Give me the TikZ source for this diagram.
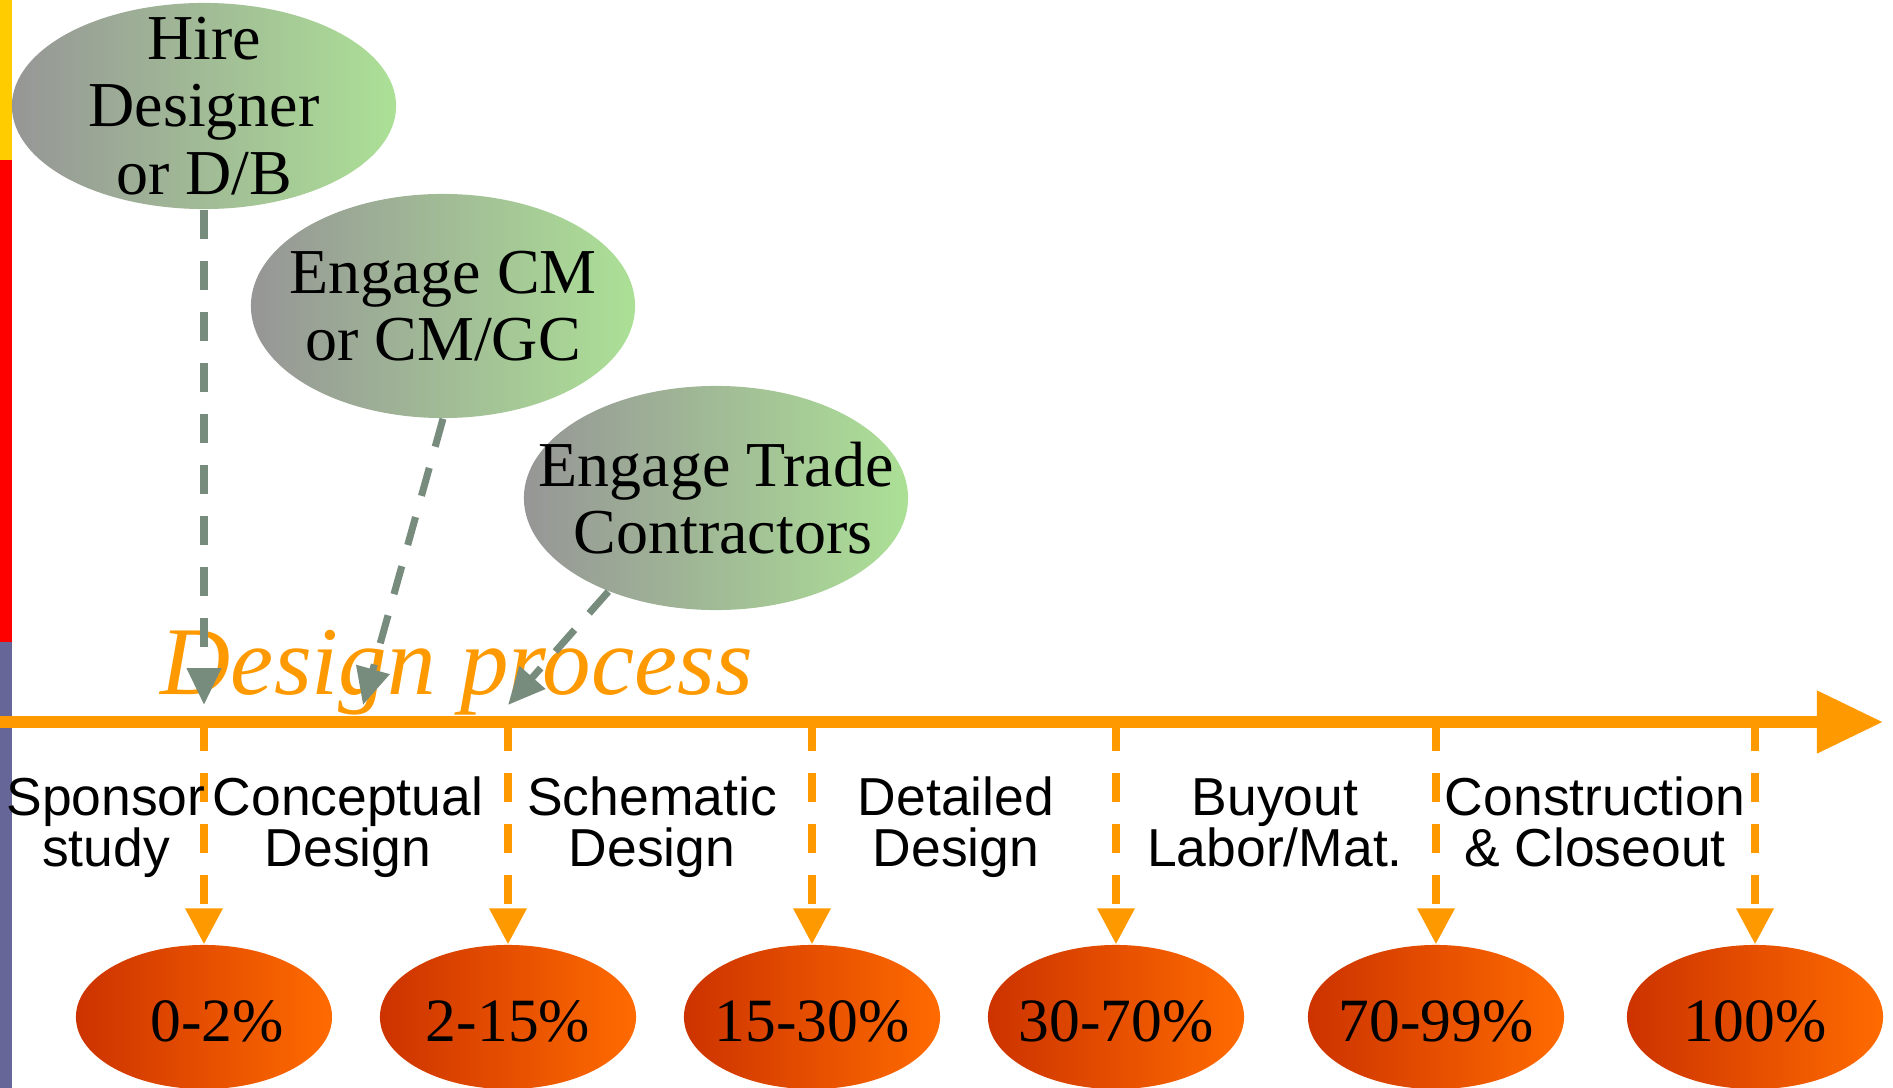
\documentclass[tikz,border=0pt]{standalone}
\usepackage{fontspec}
\setmainfont{Liberation Serif}
\setsansfont{Liberation Sans}
\usetikzlibrary{arrows.meta,shapes.geometric}
\setlength{\lineskiplimit}{-10pt}

\definecolor{barYellow}{HTML}{FFCC00}
\definecolor{barRed}{HTML}{FF0000}
\definecolor{barPurple}{HTML}{666699}
\definecolor{lineOrange}{HTML}{FF9900}
\definecolor{linkGrey}{RGB}{119,140,125}
\definecolor{blobGrey}{RGB}{150,150,150}
\definecolor{blobGreen}{RGB}{172,224,150}
\definecolor{pctDark}{RGB}{204,51,0}
\definecolor{pctLight}{RGB}{255,107,0}

\tikzset{
  task/.style={ellipse, minimum width=3.84cm, minimum height=2.24cm, inner sep=0pt,
    left color=blobGrey, right color=blobGreen},
  tasktext/.style={align=center, font=\fontsize{18.2}{19.1}\selectfont},
  pct/.style={ellipse, minimum width=2.56cm, minimum height=1.44cm, inner sep=0pt,
    left color=pctDark, right color=pctLight},
  pcttext/.style={font=\fontsize{17.5}{20}\selectfont},
  phase/.style={align=center, anchor=base, font=\sffamily\fontsize{15.2}{14.3}\selectfont},
  link/.style={linkGrey, line width=2pt, dash pattern=on 8.25pt off 6.26pt,
    -{Triangle[length=10.5pt,width=9.4pt]}},
  tick/.style={lineOrange, line width=2pt, dash pattern=on 8.25pt off 6.26pt,
    -{Triangle[length=10.2pt,width=10.2pt]}}
}

\begin{document}
\begin{tikzpicture}[x=0.01cm, y=-0.01cm]
    \useasboundingbox (0,0) rectangle (1893,1088);
    \fill[barYellow] (0,0) rectangle (12,160);
    \fill[barRed] (0,160) rectangle (12,642);
    \fill[barPurple] (0,642) rectangle (12,1088);

    \node[task, minimum height=2.06cm] (hire) at (204,106) {};
    \node[tasktext] (hiretext) at (hire) {Hire\\Designer\\or D/B};
    \node[task] (cm) at (443,306) {};
    \node[tasktext] (cmtext) at (cm) {Engage CM\\or CM/GC};
    \node[task] (trade) at (716,498) {};
    \node[tasktext] (tradetext) at (trade) {Engage Trade\\\hspace*{0.14cm}Contractors};

    \node[lineOrange, anchor=base, font=\itshape\fontsize{27.6}{30}\selectfont] (design) at (457,694) {Design process};

    \coordinate (d1) at (204,705);
    \coordinate (d2) at (363,705);
    \coordinate (d3) at (508,705);
    \draw[link] (hire.south) -- (d1);
    \draw[link] (cm.south) -- (d2);
    \draw[link] (trade.221) -- (d3);

    \coordinate (start) at (0,722);
    \coordinate (end) at (1883,722);
    \draw[lineOrange, line width=3.4pt, -{Triangle[length=18.8pt,width=17pt]}] (start) -- (end);

    \foreach \x/\dx/\p [count=\i] in {204/13/0-2\%, 508/0/2-15\%, 812/0/15-30\%,
        1116/0/30-70\%, 1436/0/70-99\%, 1755/0/100\%}{
      \coordinate (t\i) at (\x,722);
      \node[pct] (p\i) at (\x,1017) {};
      \node[pcttext] (pt\i) at (\x+\dx,1021) {\p};
      \draw[tick] (t\i) -- (p\i.north);
    }

    \foreach \x/\txt [count=\i] in {106/{Sponsor\\study}, 348/{Conceptual\\Design},
        652/{Schematic\\Design}, 956/{Detailed\\Design}, 1275/{Buyout\\Labor/Mat.},
        1595/{Construction\\\& Closeout}}
      \node[phase] (ph\i) at (\x,866) {\txt};
  \end{tikzpicture}
\end{document}
